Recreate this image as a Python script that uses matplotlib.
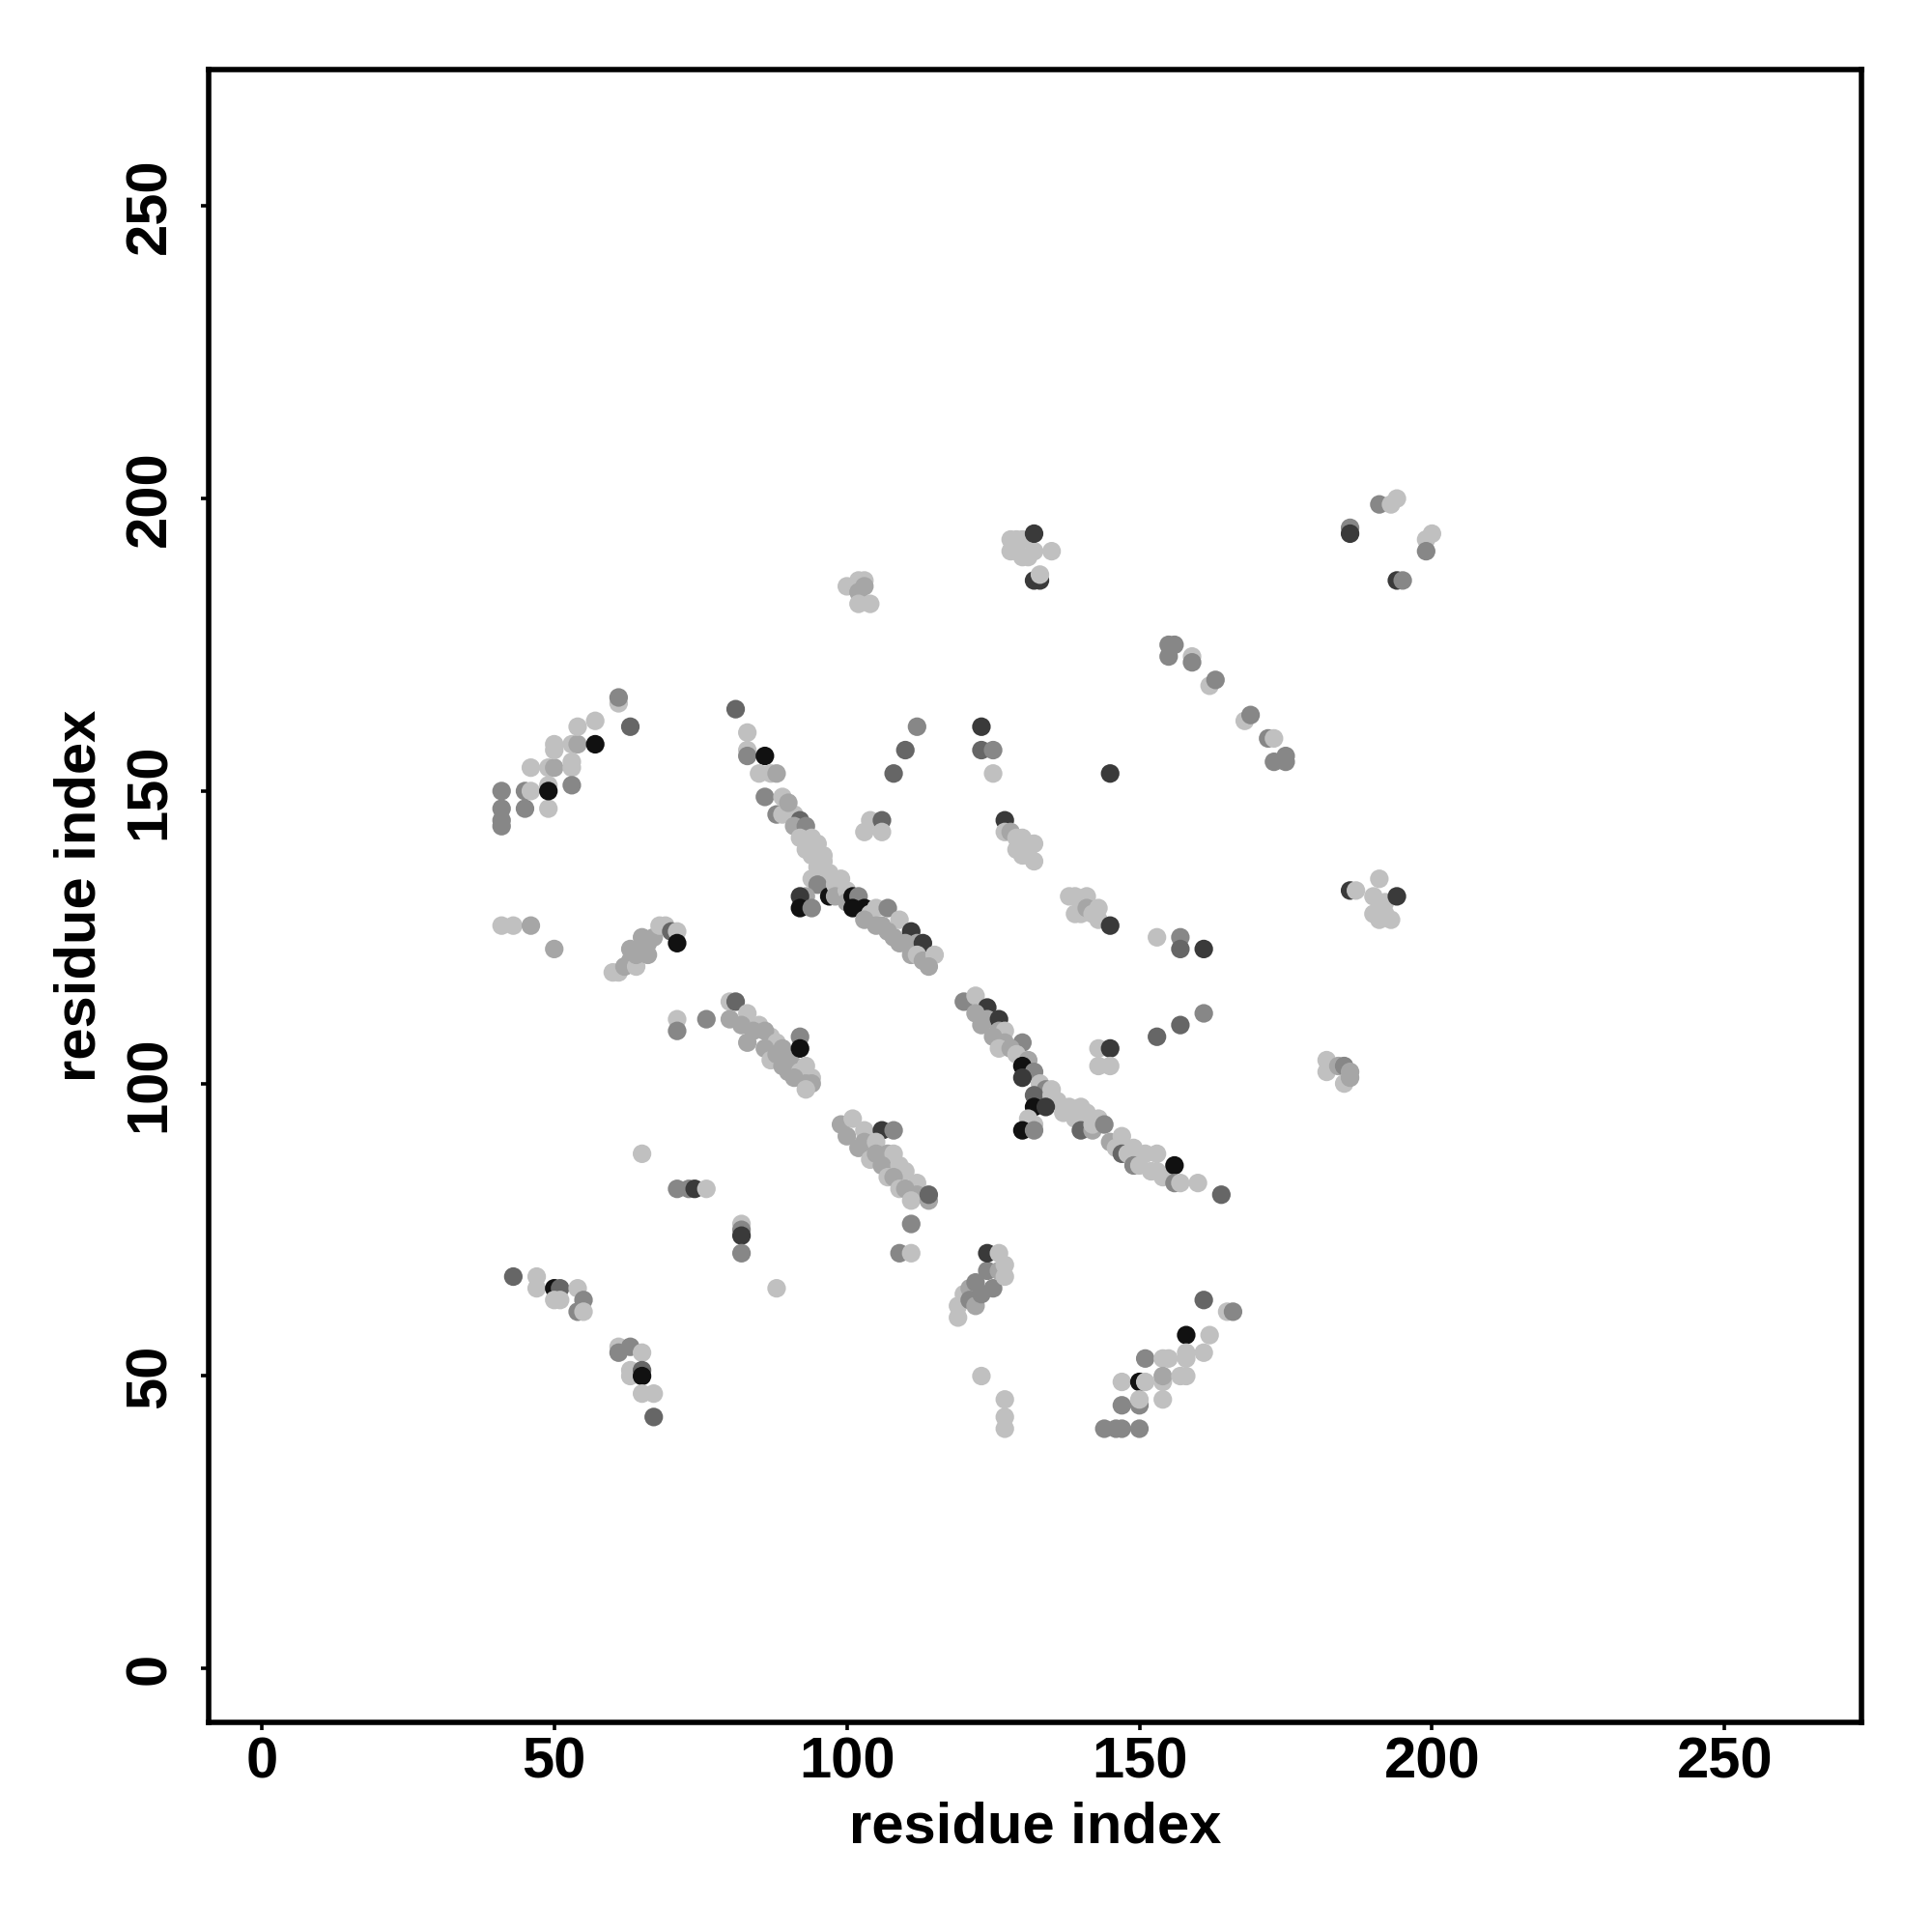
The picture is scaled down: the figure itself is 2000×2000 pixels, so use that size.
import matplotlib
matplotlib.use("Agg")
import matplotlib.pyplot as plt
import numpy as np

# contact clusters: (residue i, residue j, score) ; score shown as grey level (0 = black, 1 = white)
k, d, dg, g, ml, l = 0.07, 0.23, 0.40, 0.53, 0.65, 0.75

arc_upper_left = [(41,150,g),(41,147,g),(41,145,g),(41,144,g),(45,150,g),(46,150,l),(45,147,g),(49,147,l),
    (49,151,l),(49,150,k),(46,154,l),(49,154,l),(50,154,ml),(53,155,l),(53,154,l),(53,151,g),
    (50,158,l),(50,157,l),(53,158,l),(54,158,ml),(54,161,l),(57,162,l),(57,158,k),
    (61,165,l),(61,166,g),(63,161,dg)]
row_127 = [(41,127,l),(43,127,l),(46,127,ml),(50,123,ml)]
band_60_71 = [(60,119,l),(61,119,l),(62,120,ml),(63,121,ml),(63,123,ml),(64,120,l),(64,122,ml),(65,125,ml),
    (65,123,ml),(66,122,ml),(66,124,ml),(67,125,ml),(68,127,l),(69,127,l),(70,126,dg),(71,126,l),(71,124,k)]
singles_left = [(71,111,l),(71,109,g),(76,111,g),(65,88,l),(71,82,g),(73,82,g),(74,82,d),(76,82,l),
    (82,76,l),(82,75,g),(82,74,d),(82,71,g),(88,65,l)]
band_80_94 = [(80,114,l),(81,114,dg),(80,111,ml),(83,112,l),(82,110,ml),(85,110,l),(84,109,ml),(83,107,ml),
    (87,108,l),(86,109,ml),(88,107,l),(89,106,ml),(86,106,ml),(87,104,l),(88,105,ml),(90,104,ml),(89,103,ml),
    (91,103,ml),(90,102,ml),(92,108,g),(92,106,k),(93,103,l),(92,102,l),(91,101,ml),(94,101,l),(93,100,ml),
    (94,100,ml),(93,99,l)]
cluster_low_left = [(43,67,dg),(47,67,l),(47,65,l),(50,65,k),(51,65,dg),(50,63,l),(51,63,l),(54,65,l),
    (55,63,g),(54,61,g),(55,61,l),(61,55,l),(61,54,g),(63,55,g),(65,54,l),(63,51,l),(63,50,l),
    (65,51,dg),(65,50,k),(65,47,l),(67,47,l),(67,43,dg)]
band_81_115 = [(81,164,dg),(83,160,l),(83,157,l),(83,156,g),(86,156,k),(85,153,l),(87,153,l),(88,153,ml),
    (86,149,g),(89,149,l),(88,146,g),(89,146,l),(91,146,l),(90,148,ml),(92,145,dg),(91,144,ml),(93,144,g),
    (92,142,l),(94,142,l),(95,141,l),(93,140,l),(94,139,l),(96,139,l),(96,138,l),(95,137,l),(97,136,l),
    (94,135,l),(96,134,l),(95,134,g),(93,132,ml),(92,132,d),(97,132,k),(92,130,k),(94,130,g),(99,135,l),
    (98,134,l),(98,132,ml),(100,133,l),(100,131,ml),(101,132,k),(102,132,g),(101,130,k),(103,130,k),
    (104,129,l),(105,130,l),(103,128,ml),(107,130,g),(106,127,ml),(105,127,ml),(109,128,l),(107,126,ml),
    (108,125,ml),(111,126,d),(109,124,ml),(110,124,ml),(112,124,ml),(113,124,d),(111,122,ml),(112,122,l),
    (113,121,ml),(115,122,l),(114,120,ml)]
singles_mid = [(103,143,l),(104,145,l),(106,145,dg),(106,143,l),(108,153,dg),(110,157,dg),(112,161,g),
    (123,161,d),(123,157,dg),(125,157,g),(125,153,l),(145,153,d)]
cluster_127_132 = [(127,145,d),(127,143,l),(128,143,ml),(129,142,l),(130,142,l),(131,141,l),(132,141,l),
    (129,140,l),(130,139,l),(131,139,l),(132,138,l)]
cluster_138_145 = [(138,132,l),(139,132,l),(141,132,l),(139,129,l),(140,129,l),(141,130,ml),(142,129,l),
    (143,130,l),(143,128,l),(145,127,d)]
band_119_165 = [(120,114,g),(122,115,l),(124,113,d),(122,112,ml),(124,111,ml),(126,111,d),(123,110,ml),
    (126,109,ml),(127,109,l),(125,108,ml),(127,107,ml),(130,107,g),(126,106,l),(128,106,ml),(129,105,l),
    (130,104,l),(131,104,ml),(130,103,k),(132,102,g),(130,101,d),(133,100,l),(134,99,g),(135,99,l),
    (132,98,dg),(135,98,l),(136,97,l),(132,96,k),(134,96,d),(137,95,l),(138,96,l),(140,96,l),(139,94,l),
    (141,95,l),(143,94,l),(131,94,l),(132,93,l),(130,92,k),(132,92,g),(140,92,dg),(142,92,ml),(142,93,l),
    (144,93,g),(145,90,ml),(146,89,l),(147,91,l),(147,88,dg),(148,88,l),(149,89,l),(151,88,l),(149,86,g),
    (150,86,l),(152,85,l),(153,88,l),(153,85,l),(154,84,l),(156,86,k),(156,83,g),(157,83,l),(160,83,l),
    (164,81,dg)]
singles_right = [(143,106,l),(145,106,d),(143,103,l),(145,103,l),(153,125,l),(157,125,g),(157,123,dg),
    (161,123,d),(153,108,dg),(157,110,dg),(161,112,g)]
band_99_115 = [(99,93,ml),(101,94,l),(103,92,l),(106,92,d),(108,92,g),(100,91,ml),(102,89,ml),(103,90,ml),
    (105,90,l),(104,87,l),(105,88,ml),(107,88,ml),(108,88,l),(106,86,ml),(109,86,l),(110,85,l),(107,84,l),
    (108,84,ml),(112,83,l),(109,82,l),(110,82,ml),(112,81,ml),(111,80,l),(114,80,ml),(114,81,dg),
    (111,76,g),(109,71,g),(111,71,l)]
cluster_119_127 = [(119,60,l),(119,62,l),(120,64,l),(121,65,ml),(121,63,g),(122,62,ml),(122,66,g),
    (123,64,g),(124,68,g),(125,65,g),(126,68,ml),(127,67,l),(127,69,l),(124,71,d),(126,71,l),
    (123,50,l),(127,46,l),(127,43,l),(127,41,l)]
cluster_low_right = [(144,41,g),(146,41,g),(147,41,g),(150,41,g),(147,45,g),(150,45,g),(147,49,l),
    (150,49,k),(151,49,l),(154,49,l),(150,46,l),(154,46,l),(151,53,g),(154,53,l),(155,53,l),(158,53,l),
    (154,50,ml),(157,50,l),(158,50,l),(158,57,k),(162,57,l),(158,54,l),(161,54,l),(161,63,dg),
    (165,61,l),(166,61,g)]
cluster_top = [(100,185,l),(101,185,l),(102,186,l),(103,186,l),(102,184,ml),(103,185,ml),(102,182,l),
    (104,182,l),(128,193,l),(129,193,l),(130,193,l),(128,191,l),(129,191,l),(130,190,l),(131,190,l),
    (132,191,l),(132,194,d),(135,191,l),(132,186,d),(133,186,d),(133,187,l)]
cluster_top_right = [(186,195,g),(186,194,d),(191,199,g),(193,199,l),(194,200,l),(199,193,l),(200,194,l),
    (199,191,g),(194,186,d),(195,186,g)]
band_155_175 = [(155,175,g),(156,175,g),(155,173,g),(159,173,l),(159,172,g),(162,168,l),(163,169,g),
    (168,162,l),(169,163,g),(172,159,g),(173,159,l),(173,155,g),(175,156,g),(175,155,g)]
cluster_186_194 = [(186,133,d),(187,133,l),(191,135,l),(190,132,l),(192,131,l),(191,130,l),(190,129,l),
    (192,129,l),(191,128,l),(193,128,l),(194,132,d)]
cluster_182_186 = [(182,104,l),(182,102,l),(184,103,ml),(185,103,g),(186,102,ml),(185,100,l),(186,101,ml)]

clusters = [arc_upper_left, row_127, band_60_71, singles_left, band_80_94, cluster_low_left,
            band_81_115, singles_mid, cluster_127_132, cluster_138_145, band_119_165, singles_right,
            band_99_115, cluster_119_127, cluster_low_right, cluster_top, cluster_top_right,
            band_155_175, cluster_186_194, cluster_182_186]
pts = np.array([p for c in clusters for p in c], dtype=float)
res_i, res_j, score = pts[:, 0], pts[:, 1], pts[:, 2]

ticks = [0, 50, 100, 150, 200, 250]

plt.rcParams['font.family'] = ['Liberation Sans', 'DejaVu Sans']
plt.rcParams['font.weight'] = 'bold'

fig = plt.figure(figsize=(10, 10), dpi=200)
ax = fig.add_axes([0.108, 0.1085, 0.8555, 0.8557])
ax.scatter(res_i, res_j, c=score, cmap='gray', vmin=0, vmax=1, s=48, linewidths=0)
ax.set_xlim(-9.06, 273.4)
ax.set_ylim(-9.2, 273.4)
ax.set_xticks(ticks)
ax.set_yticks(ticks)
for sp in ax.spines.values():
    sp.set_linewidth(2.0)
ax.tick_params(axis='both', length=2.8, width=1.3, labelsize=21.5)
ax.tick_params(axis='x', pad=2.5)
ax.tick_params(axis='y', pad=9)
for lab in ax.get_yticklabels():
    lab.set_rotation(90)
    lab.set_va('center')
    lab.set_fontweight('bold')
for lab in ax.get_xticklabels():
    lab.set_fontweight('bold')
fig.text(0.5358, 0.054, 'residue index', ha='center', va='center', fontsize=21.5, fontweight='bold')
fig.text(0.0415, 0.5365, 'residue index', ha='center', va='center', fontsize=21.5, fontweight='bold',
         rotation=90)
fig.savefig('out.png', dpi=200, facecolor='white')
